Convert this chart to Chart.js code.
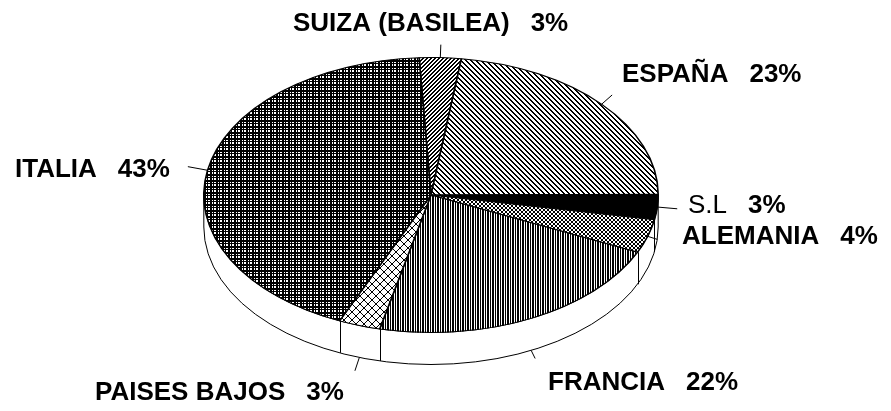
<!DOCTYPE html>
<html>
<head>
<meta charset="utf-8">
<script src="https://cdn.jsdelivr.net/npm/chart.js@4/dist/chart.umd.min.js"></script>
<style>
  html, body { margin: 0; padding: 0; background: #fff; }
  canvas { display: block; }
</style>
</head>
<body>
<canvas id="chart" width="891" height="411"></canvas>
<script>
// --- data ---
const categories = ["SUIZA (BASILEA)", "ESPAÑA", "S.L", "ALEMANIA", "FRANCIA", "PAISES BAJOS", "ITALIA"];
const percents   = [3, 23, 3, 4, 22, 3, 43];
const pctLabels  = ["3%", "23%", "3%", "4%", "22%", "3%", "43%"];

// --- layout (text placement only) ---
const labelPos    = [[293, 24], [622, 75], [688, 206], [682, 237], [548, 383], [95, 393], [15, 170]];
const leaderOnRim = [false, false, false, false, true, true, false];
const leaderLen   = [13, 14, 20, 10, 9, 14, 20];
const nameBold    = [true, true, false, true, true, true, true];
const SX = 228 / 138;   // horizontal stretch -> ellipse
const DEPTH = 32;       // height of the pie side

// --- patterns ---
const canvas = document.getElementById("chart");
const ctx = canvas.getContext("2d");
function tile(n, on) {
  const c = document.createElement("canvas");
  c.width = c.height = n;
  const g = c.getContext("2d");
  g.fillStyle = "#fff"; g.fillRect(0, 0, n, n);
  g.fillStyle = "#000";
  for (let y = 0; y < n; y++) for (let x = 0; x < n; x++) if (on(x, y)) g.fillRect(x, y, 1, 1);
  return ctx.createPattern(c, "repeat");
}
const ring = [".XX.", "X..X", "X..X", ".XX."];
const plaid = [0, 1, 3];
const patterns = [
  tile(4, (x, y) => (x + y) % 4 < 2),                  // suiza  ////
  tile(5, (x, y) => ((x - y) % 5 + 5) % 5 < 2),        // espana \\\\
  tile(2, () => true),                                 // s.l. solid
  tile(4, (x, y) => ring[y][x] === "X"),               // alemania rings
  tile(5, (x) => x === 0 || x === 2 || x === 3),       // francia vertical
  tile(8, (x, y) => x === y || x + y === 7),           // paises bajos diamonds
  tile(6, (x, y) => plaid.includes(x) || plaid.includes(y)) // italia plaid
];

// --- 3d look + labels ---
const pie3d = {
  id: "pie3d",
  beforeDraw(chart) {
    const c = chart.ctx;
    c.save(); c.fillStyle = "#fff"; c.fillRect(0, 0, chart.width, chart.height); c.restore();
  },
  beforeDatasetsDraw(chart) {
    const c = chart.ctx;
    const arcs = chart.getDatasetMeta(0).data;
    const {x, y, outerRadius: r} = arcs[0];
    const rx = r * SX;
    c.save();
    c.beginPath();
    c.moveTo(x - rx, y);
    c.lineTo(x - rx, y + DEPTH);
    c.ellipse(x, y + DEPTH, rx, r, 0, Math.PI, 0, true);
    c.lineTo(x + rx, y);
    c.ellipse(x, y, rx, r, 0, 0, Math.PI, false);
    c.closePath();
    c.fillStyle = "#fff"; c.fill();
    c.lineWidth = 1; c.strokeStyle = "#000"; c.stroke();
    arcs.forEach(a => {
      const s = Math.sin(a.startAngle);
      if (s > 0.05) {
        const px = Math.round(x + rx * Math.cos(a.startAngle)) + 0.5;
        c.beginPath(); c.moveTo(px, y + r * s); c.lineTo(px, y + r * s + DEPTH); c.stroke();
      }
    });
    c.restore();
    c.save();
    c.translate(x, y); c.scale(SX, 1); c.translate(-x, -y);
    const inv = c.getTransform().inverse();
    patterns.forEach(p => p.setTransform(inv));
  },
  afterDatasetsDraw(chart) {
    const c = chart.ctx;
    c.restore();
    const arcs = chart.getDatasetMeta(0).data;
    const {x, y, outerRadius: r} = arcs[0];
    const rx = r * SX;
    c.save();
    c.strokeStyle = "#000"; c.lineWidth = 1; c.fillStyle = "#000";
    arcs.forEach((a, i) => {
      const m = (a.startAngle + a.endAngle) / 2;
      const cs = Math.cos(m), sn = Math.sin(m);
      const px = x + rx * cs, py = y + r * sn + (leaderOnRim[i] ? DEPTH : 0);
      c.beginPath(); c.moveTo(px, py); c.lineTo(px + cs * leaderLen[i], py + sn * leaderLen[i]); c.stroke();
      const [lx, ly] = labelPos[i];
      c.textBaseline = "middle"; c.textAlign = "left";
      c.font = (nameBold[i] ? "bold " : "") + '26px "Liberation Sans", Arial, sans-serif';
      c.fillText(categories[i], lx, ly);
      const w = c.measureText(categories[i]).width;
      c.font = 'bold 26px "Liberation Sans", Arial, sans-serif';
      c.fillText(pctLabels[i], lx + w + 21, ly);
    });
    c.restore();
  }
};

new Chart(ctx, {
  type: "pie",
  data: {
    labels: categories,
    datasets: [{ data: percents, backgroundColor: patterns, borderColor: "#000", borderWidth: 1, clip: false }]
  },
  options: {
    responsive: false,
    animation: false,
    devicePixelRatio: 1,
    rotation: -3,
    events: [],
    layout: { padding: { left: 293, right: 322, top: 57, bottom: 78 } },
    plugins: { legend: { display: false }, tooltip: { enabled: false } }
  },
  plugins: [pie3d]
});
</script>
</body>
</html>
